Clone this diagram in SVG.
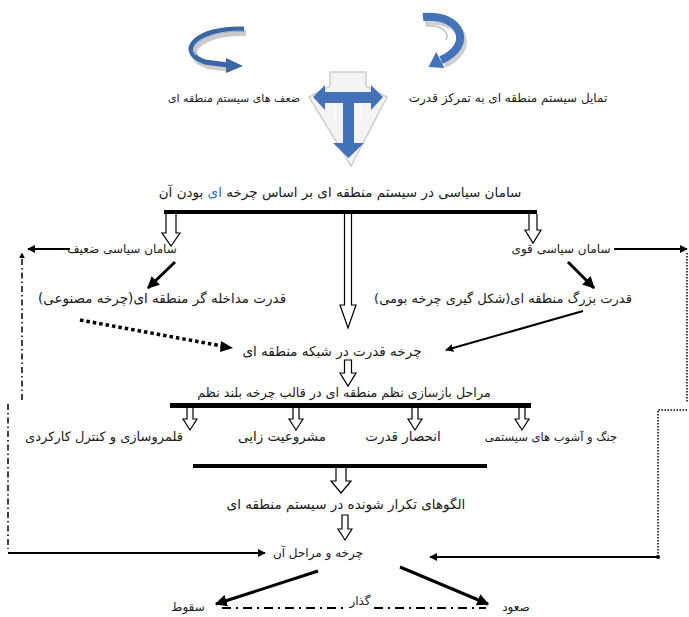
<svg xmlns="http://www.w3.org/2000/svg" width="689" height="617" viewBox="0 0 689 617">
<defs>
<style>
text{font-family:"DejaVu Sans","Noto Sans",sans-serif;font-size:13px;fill:#1a1a1a;direction:rtl;text-anchor:middle}
.ln{stroke:#000;fill:none;stroke-width:2}
.thk{stroke:#000;fill:none;stroke-width:3}
.hol{fill:#fff;stroke:#000;stroke-width:1.2;stroke-linejoin:miter}
.dd{stroke:#000;fill:none;stroke-width:1.5;stroke-dasharray:6 3 1.5 3}
.dot{stroke:#000;fill:none;stroke-width:1.5;stroke-dasharray:1.5 1.5}
.bar{fill:#000}
.blue{fill:#4472b8}
</style>
<marker id="ah" viewBox="0 0 10 10" refX="9" refY="5" markerWidth="4" markerHeight="4" orient="auto" markerUnits="strokeWidth">
<path d="M0 0 L10 5 L0 10 Z" fill="#000"/>
</marker>
</defs>

<g id="icons">
<g id="icon-left">
<path d="M246 33 C 201 31, 177 55, 208 66 L 231 69" fill="none" stroke="#cacaca" stroke-width="6"/>
<path d="M244 29 C 198 27, 174 51, 205 62 L 228 65" fill="none" stroke="#3a66a8" stroke-width="5"/>
<path d="M243 31 C 205 31, 186 46, 196 55" fill="none" stroke="#9fb6d8" stroke-width="1.2"/>
<polygon points="226,58 243,66 226,73" fill="#3a66a8"/>
</g>
<g id="icon-right">
<path d="M425 21 C 466 18, 476 50, 444 64" fill="none" stroke="#cfcfcf" stroke-width="8"/>
<path d="M423 17 C 462 13, 474 46, 441 60" fill="none" stroke="#4472b8" stroke-width="8"/>
<path d="M426 26 C 440 24, 450 32, 446 40" fill="none" stroke="#bdbdbd" stroke-width="1.5"/>
<polygon points="436.2,52 444.5,68 428.5,67" fill="#4472b8"/>
</g>
<g id="icon-center">
<polygon points="330,72 366,72 366,86 387,97 351,166 309,97 330,86" fill="#f4f4f4" stroke="#cfcfcf" stroke-width="1.5"/>
<polygon class="blue" points="313,97 325,85 325,92 371,92 371,85 383,97 371,110 371,103 354,103 354,143 364,143 348.5,158 333,143 343,143 343,103 325,103 325,110"/>
<path d="M335 106 L335 118 M361 106 L361 118" stroke="#ffffff" stroke-width="1.5"/>
</g>
<g id="lbl-weak"><text x="234" y="102" style="font-size:11px">ضعف های سیستم منطقه ای</text></g>
<g id="lbl-central"><text x="508" y="102" style="font-size:12px">تمایل سیستم منطقه ای به تمرکز قدرت</text></g>
</g>

<g id="connectors">
<rect class="bar" x="164" y="210" width="373" height="4"/>
<path class="hol" stroke-width="2.4" d="M166 214 L166 233 L162 233 L171 246 L180 233 L176 233 L176 214"/>
<path class="hol" stroke-width="1.8" d="M529 214 L529 230 L525 230 L533 243 L541 230 L537 230 L537 214"/>
<path class="hol" d="M344.5 214 L344.5 305 L340 305 L348 328 L356 305 L351.5 305 L351.5 214"/>
<path class="ln" marker-end="url(#ah)" d="M70 249 L28 249"/>
<path class="ln" marker-end="url(#ah)" d="M614 249 L687 249"/>
<path class="thk" marker-end="url(#ah)" d="M175 262 L148 288"/>
<path class="thk" marker-end="url(#ah)" d="M568 262 L594 288"/>
<path d="M80 320 L222 346" stroke="#000" stroke-width="3.5" stroke-dasharray="3.5 3" fill="none"/>
<polygon points="221,341 233,348 220,352"/>
<path class="ln" marker-end="url(#ah)" d="M583 311 L446 350"/>
<path class="hol" stroke-width="2.5" d="M344.5 360 L344.5 373 L340 373 L348 386 L356 373 L351.5 373 L351.5 360 Z"/>
<rect class="bar" x="170" y="403" width="361" height="5"/>
<path class="hol" d="M187 408 L187 419 L183 419 L190 430 L197 419 L193 419 L193 408"/>
<path class="hol" d="M293 408 L293 419 L289 419 L296 430 L303 419 L299 419 L299 408"/>
<path class="hol" d="M412 408 L412 419 L408 419 L415 430 L422 419 L418 419 L418 408"/>
<path class="hol" d="M519 408 L519 419 L515 419 L522 430 L529 419 L525 419 L525 408"/>
<rect class="bar" x="193" y="464" width="294" height="4"/>
<path class="hol" d="M336 468 L336 481 L331 481 L341 493 L351 481 L346 481 L346 468"/>
<path class="hol" d="M342 515 L342 529 L338 529 L345 540 L352 529 L348 529 L348 515 Z"/>
<path class="dd" marker-end="url(#ah)" d="M22 400 L22 253"/>
<path class="dd" d="M8 404 L8 549"/>
<path class="ln" marker-end="url(#ah)" d="M8 553 L265 553"/>
<path class="dot" d="M687 253 L687 402"/>
<path class="dot" d="M687 410 L658 410 L658 556"/>
<circle cx="658" cy="557" r="2"/>
<path class="ln" marker-end="url(#ah)" d="M658 557 L430 557"/>
<path class="thk" marker-end="url(#ah)" d="M318 571 L216 604"/>
<path class="thk" marker-end="url(#ah)" d="M400 567 L488 604"/>
<path d="M222 608 L346 608 M374 608 L486 608" stroke="#000" stroke-width="2" stroke-dasharray="9 5 2 5" fill="none"/>
</g>

<g id="n-title"><text x="340" y="197" style="font-size:13.5px">سامان سیاسی در سیستم منطقه ای بر اساس چرخه <tspan fill="#2f6fc0">ای</tspan> بودن آن</text></g>
<g id="n-weak"><text x="122" y="253" style="font-size:12px">سامان سیاسی ضعیف</text></g>
<g id="n-strong"><text x="561" y="253" style="font-size:12px">سامان سیاسی قوی</text></g>
<g id="n-intervene"><text x="162" y="303" style="font-size:13.5px">قدرت مداخله گر منطقه ای(چرخه مصنوعی)</text></g>
<g id="n-great"><text x="503" y="303">قدرت بزرگ منطقه ای(شکل گیری چرخه بومی)</text></g>
<g id="n-cycle-net"><text x="332" y="356" style="font-size:13.5px">چرخه قدرت در شبکه منطقه ای</text></g>
<g id="n-stages"><text x="344" y="397" style="font-size:12.7px">مراحل بازسازی نظم منطقه ای در قالب چرخه بلند نظم</text></g>
<g id="n-territory"><text x="104" y="441">قلمروسازی و کنترل کارکردی</text></g>
<g id="n-legit"><text x="282" y="441" style="font-size:13.5px">مشروعیت زایی</text></g>
<g id="n-monopoly"><text x="403" y="441" style="font-size:13.5px">انحصار قدرت</text></g>
<g id="n-war"><text x="551" y="441" style="font-size:11.5px">جنگ و آشوب های سیستمی</text></g>
<g id="n-patterns"><text x="346" y="509" style="font-size:13.5px">الگوهای تکرار شونده در سیستم منطقه ای</text></g>
<g id="n-cycle"><text x="318" y="557" style="font-size:12px">چرخه و مراحل آن</text></g>
<g id="n-fall"><text x="188" y="611" style="font-size:12px">سقوط</text></g>
<g id="n-transition"><text x="360" y="605" style="font-size:12px">گذار</text></g>
<g id="n-rise"><text x="516" y="611" style="font-size:12px">صعود</text></g>
</svg>
